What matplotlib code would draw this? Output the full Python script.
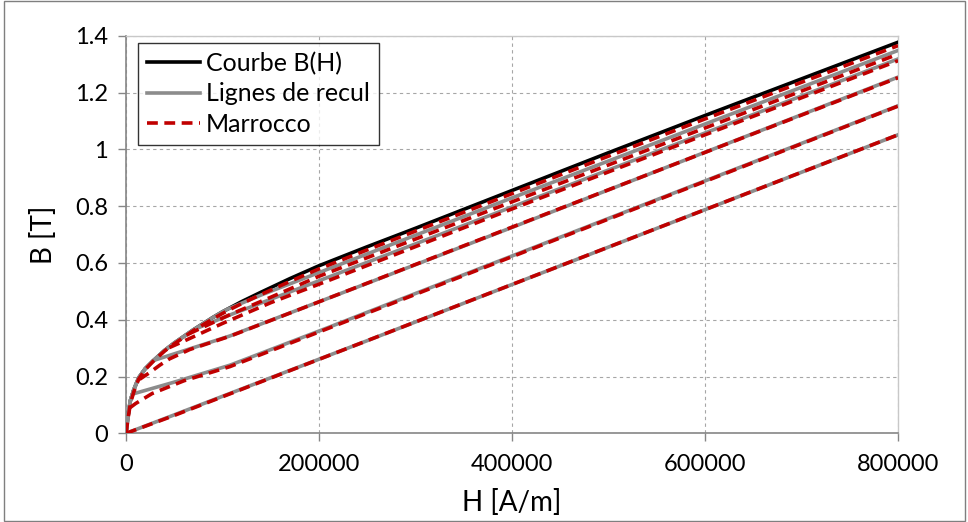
import matplotlib
matplotlib.use("Agg")
import matplotlib.pyplot as plt
from matplotlib.lines import Line2D
from matplotlib.patches import Rectangle
from matplotlib.ticker import FuncFormatter

plt.rcParams["font.family"] = ["Lato", "DejaVu Sans"]

# courbe B(H) de premiere aimantation
h_main = [0, 2000, 4500, 8000, 13000, 20000, 28000, 40000, 50000, 70000,
          90000, 100000, 110000, 120000, 140000, 170000, 200000, 250000,
          300000, 400000, 500000, 600000, 700000, 800000]
b_main = [0, 0.06, 0.115, 0.153, 0.195, 0.228, 0.255, 0.292, 0.318, 0.365,
          0.408, 0.428, 0.446, 0.464, 0.497, 0.545, 0.59, 0.657, 0.722,
          0.855, 0.988, 1.119, 1.248, 1.377]

# lignes de recul (mesure), apres le point de depart sur la courbe B(H)
h_rec1 = [0, 47700, 252800, 800000]
b_rec1 = [0, 0.062, 0.33, 1.051]
h_rec2 = [6500, 47700, 107800, 211400, 252800, 800000]
b_rec2 = [0.138, 0.178, 0.24, 0.375, 0.43, 1.153]
h_rec3 = [30000, 107800, 211400, 252800, 400000, 800000]
b_rec3 = [0.258, 0.343, 0.478, 0.532, 0.725, 1.254]
h_rec4 = [70000, 107800, 211400, 400000, 800000]
b_rec4 = [0.365, 0.417, 0.552, 0.797, 1.318]
h_rec5 = [105000, 140000, 200000, 400000, 600000, 800000]
b_rec5 = [0.437, 0.487, 0.566, 0.829, 1.089, 1.348]

# modele de Marrocco
h_mar0 = h_main
b_mar0 = [0, 0.05, 0.105, 0.145, 0.19, 0.225, 0.253, 0.29, 0.315, 0.362,
          0.403, 0.422, 0.44, 0.457, 0.489, 0.535, 0.579, 0.646, 0.712,
          0.844, 0.976, 1.107, 1.236, 1.365]
h_mar1 = [0, 47700, 252800, 800000]
b_mar1 = [0, 0.06, 0.33, 1.051]
h_mar2 = [4000, 10000, 27000, 60000, 107800, 211400, 800000]
b_mar2 = [0.09, 0.105, 0.14, 0.185, 0.235, 0.372, 1.152]
h_mar3 = [14000, 25000, 35000, 45000, 66000, 107800, 211400, 800000]
b_mar3 = [0.19, 0.215, 0.24, 0.262, 0.295, 0.342, 0.478, 1.252]
h_mar4 = [45000, 62800, 85200, 100700, 150000, 211400, 400000, 800000]
b_mar4 = [0.302, 0.329, 0.364, 0.388, 0.46, 0.54, 0.79, 1.312]
h_mar5 = [65000, 87000, 107800, 149200, 200000, 400000, 800000]
b_mar5 = [0.35, 0.385, 0.418, 0.478, 0.553, 0.815, 1.335]

x_ticks = [0, 200000, 400000, 600000, 800000]
y_ticks = [0, 0.2, 0.4, 0.6, 0.8, 1.0, 1.2, 1.4]

GRAY = "#8c8c8c"
RED = "#c00000"
DASH = (0, (3.0, 1.8))


def with_start(h_ref, b_ref, h, b):
    # la ligne de recul suit la courbe de reference jusqu'a son depart
    hs = [x for x in h_ref if x < h[0]]
    bs = b_ref[:len(hs)]
    return hs + h, bs + b


fig = plt.figure(figsize=(9.68, 5.22), dpi=100)
ax = fig.add_axes([0.1302, 0.1699, 0.7975, 0.7617])

ax.plot(h_main, b_main, color="black", lw=2.6, zorder=3)
recul = [(h_rec1, b_rec1), (h_rec2, b_rec2), (h_rec3, b_rec3),
         (h_rec4, b_rec4), (h_rec5, b_rec5)]
for h, b in recul:
    hh, bb = with_start(h_main, b_main, h, b)
    ax.plot(hh, bb, color=GRAY, lw=2.6, zorder=4)
ax.plot(h_mar0, b_mar0, color=RED, lw=2.6, ls=DASH, zorder=5)
marrocco = [(h_mar1, b_mar1), (h_mar2, b_mar2), (h_mar3, b_mar3),
            (h_mar4, b_mar4), (h_mar5, b_mar5)]
for h, b in marrocco:
    ax.plot(h, b, color=RED, lw=2.6, ls=DASH, zorder=5)

ax.set_xlim(0, 800000)
ax.set_ylim(0, 1.4)
ax.set_xticks(x_ticks)
ax.set_yticks(y_ticks)
ax.yaxis.set_major_formatter(FuncFormatter(lambda v, p: "%g" % v))
ax.xaxis.set_major_formatter(FuncFormatter(lambda v, p: "%d" % v))
ax.tick_params(axis="both", labelsize=17, colors="#868686", length=6,
               width=1, labelcolor="black")
ax.tick_params(axis="x", pad=9)
ax.tick_params(axis="y", pad=7)
ax.grid(True, color="#a6a6a6", ls=(0, (3, 3)), lw=0.8)
ax.set_axisbelow(True)
for side in ["left", "bottom"]:
    ax.spines[side].set_color("#868686")
    ax.spines[side].set_linewidth(1.2)
for side in ["top", "right"]:
    ax.spines[side].set_color("#c8c8c8")
    ax.spines[side].set_linewidth(1.0)

ax.set_xlabel("H [A/m]", fontsize=20, labelpad=10)
ax.set_ylabel("B [T]", fontsize=20, labelpad=13)

handles = [Line2D([], [], color="black", lw=2.6),
           Line2D([], [], color=GRAY, lw=2.6),
           Line2D([], [], color=RED, lw=2.6, ls=DASH)]
leg = ax.legend(handles, ["Courbe B(H)", "Lignes de recul", "Marrocco"],
                loc="upper left", bbox_to_anchor=(0.016, 0.982), fontsize=18,
                frameon=True, fancybox=False, handlelength=2.1,
                handletextpad=0.25, borderpad=0.35, labelspacing=0.3,
                borderaxespad=0)
leg.get_frame().set_edgecolor("black")
leg.get_frame().set_linewidth(1.0)
leg.set_zorder(10)

fig.patches.append(Rectangle((0.004, 0.002), 0.993, 0.996,
                             transform=fig.transFigure, fill=False,
                             edgecolor="#7f7f7f", lw=1.0))

fig.savefig("out.png", dpi=100)
